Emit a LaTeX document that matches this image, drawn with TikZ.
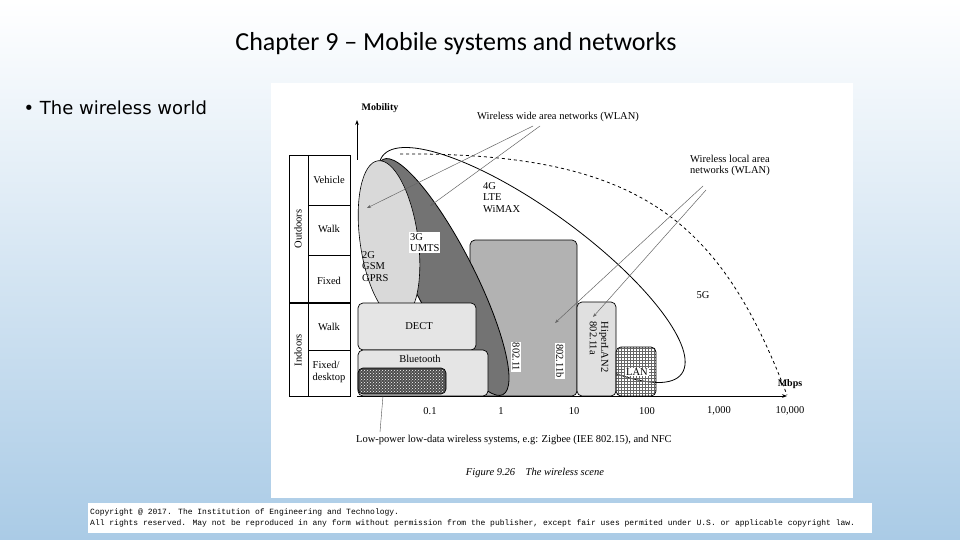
\documentclass[tikz,border=0pt]{standalone}
\usepackage{fontspec}
\setmainfont{Liberation Serif}
\newfontfamily\titlefont{Carlito}
\newfontfamily\bulfont{DejaVu Sans}
\newfontfamily\monof{Liberation Mono}
\usetikzlibrary{patterns,arrows.meta}
\begin{document}
\begin{tikzpicture}[x=1pt,y=-1pt,
  fig/.style={font=\fontsize{10.5}{11.5}\selectfont},
  lbl/.style={fig,inner sep=1pt},
  vbox/.style={fig,fill=white,inner sep=1pt,rotate=-90},
  ptr/.style={draw=black!60,line width=0.5pt,-{Stealth[length=4pt]}},
  rbox/.style={draw,rounded corners=5pt,line width=0.7pt}]
\shade[top color=white,bottom color={rgb,255:red,170;green,203;blue,230}] (0,0) rectangle (960,540);
\useasboundingbox (0,0) rectangle (960,540);
\node[font=\titlefont\fontsize{26}{30}\selectfont] (title) at (456,44) {Chapter 9 – Mobile systems and networks};
\node[anchor=west,font=\bulfont\fontsize{18}{20}\selectfont] (bul) at (20,108) {• The wireless world};
\fill[white] (271,83) rectangle (853,498);
\fill[white] (88,503) rectangle (872,533);
\node[anchor=west,align=left,inner sep=0pt,font=\monof\fontsize{8}{11}\selectfont] (copy) at (90,518) {Copyright @ 2017. The Institution of Engineering and Technology.\\All rights reserved. May not be reproduced in any form without permission from the publisher, except fair uses permited under U.S. or applicable copyright law.};
% 4G/5G ellipse
\draw[line width=0.8pt,fill=white] (532,265) ellipse[x radius=185,y radius=55,rotate=-36];
% dashed
\draw[dashed,line width=0.8pt] (400,154) .. controls (640,152) and (720,220) .. (787,395);
% 802.11 boxes
\draw[rbox,fill=black!30] (470,240) rectangle (577,396);
\draw[rbox,fill=black!12] (577,302) rectangle (616,396);
\draw[rbox,pattern=grid,pattern color=black!60] (616,347) rectangle (656,396);
% 3G
\draw[line width=0.8pt,fill=black!55] (443,277) ellipse[x radius=132,y radius=31,rotate=-63];
% 2G
\draw[line width=0.6pt,fill=black!15] (389,240) ellipse[x radius=29,y radius=80,rotate=8];
% DECT, Bluetooth
\draw[rbox,fill=black!10] (358,303) rectangle (476,350);
\draw[rbox,fill=black!10] (358,350) rectangle (488,396);
\draw[rbox,fill=black!70] (358,368) rectangle (446,394);
\fill[pattern=crosshatch dots,pattern color=white] (360,370) rectangle (444,392);
% table
\draw[line width=0.8pt] (289,155) rectangle (350,396);
\draw (308,155) -- (308,396);
\foreach \y in {205,255,350} \draw (308,\y) -- (350,\y);
\draw[line width=1.2pt] (289,303) -- (350,303);
\node[lbl,rotate=90] (out) at (298,229) {Outdoors};
\node[lbl,rotate=90] (ind) at (298,350) {Indoors};
\node[lbl] (veh) at (329,180) {Vehicle};
\node[lbl] (w1) at (329,229) {Walk};
\node[lbl] (fx) at (329,281) {Fixed};
\node[lbl] (w2) at (329,327) {Walk};
\node[lbl,align=left] (fd) at (329,372) {Fixed/\\desktop};
% axes
\coordinate (o) at (357,396);
\coordinate (my) at (357,120);
\coordinate (mx) at (787,396);
\draw[line width=0.8pt,-{Stealth[length=5pt]}] (357,160) -- (my);
\draw[line width=1pt,-{Stealth[length=5pt]}] (o) -- (mx);
\node[lbl,font=\fontsize{10}{11}\selectfont\bfseries] (mob) at (380,108) {Mobility};
\node[lbl,font=\fontsize{10}{11}\selectfont\bfseries] (mb) at (790,384) {Mbps};
\foreach \x/\t in {430/0.1,501/1,574/10,647/100,719/{1,000},790/{10,000}} \node[lbl] at (\x,411) {\t};
% labels
\node[lbl,align=left,anchor=north west] (g4) at (482,181) {4G\\LTE\\WiMAX};
\node[lbl,align=left,fill=white,anchor=north west] (g3) at (409,232) {3G\\UMTS};
\node[lbl,align=left,anchor=north west] (g2) at (361,250) {2G\\GSM\\GPRS};
\node[lbl] (dect) at (419,326) {DECT};
\node[lbl] (bt) at (420,359) {Bluetooth};
\node[vbox] (w1a) at (516,357) {802.11};
\node[vbox] (w1b) at (560,361) {802.11b};
\node[vbox,fill=none,align=left] (hip) at (599,347) {HiperLAN2\\802.11a};
\node[lbl,fill=white] (lan) at (637,372) {LAN};
\node[lbl] (g5) at (703,295) {5G};
\node[lbl,anchor=west] (wwan) at (476,117) {Wireless wide area networks (WLAN)};
\node[lbl,anchor=north west,align=left] (wlan) at (689,154) {Wireless local area\\networks (WLAN)};
\node[lbl,anchor=west] (low) at (355,440) {Low-power low-data wireless systems, e.g: Zigbee (IEE 802.15), and NFC};
\node[lbl,font=\fontsize{10.5}{12}\selectfont\itshape] (cap) at (535,473) {Figure 9.26\quad The wireless scene};
% pointers
\coordinate (p1) at (367,208); \coordinate (p2) at (430,206);
\coordinate (p3) at (555,323); \coordinate (p4) at (593,317);
\draw[ptr] (533,126) -- (p1);
\draw[ptr] (540,126) -- (p2);
\draw[ptr] (703,186) -- (p3);
\draw[ptr] (706,190) -- (p4);
\coordinate (p5) at (383,396);
\draw[black!70] (380,432) -- (p5);
\end{tikzpicture}
\end{document}
